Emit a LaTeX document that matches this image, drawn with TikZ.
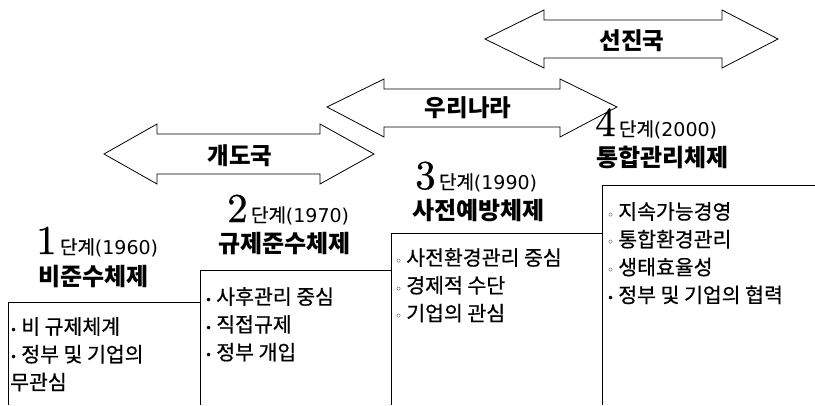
\documentclass[tikz,border=0pt]{standalone}
\usepackage{fontspec}
\newfontfamily\kr{Noto Sans CJK KR}
\newfontfamily\krm{Noto Sans CJK KR}[FakeBold=0.6]
\newfontfamily\dv{DejaVu Sans}
\newfontfamily\numf{lmroman10-regular.otf}[FakeBold=0.6]
\newcommand\fb{{\dv\fontsize{12}{12}\selectfont •}\hspace{4pt}}
\newcommand\hb{{\dv\fontsize{12}{12}\selectfont ◦}\hspace{4pt}}
\newcommand\bignum[1]{{\numf\fontsize{41}{41}\selectfont #1}}
\newcommand\stg[2]{{\krm\fontsize{19}{19}\selectfont #1}{\dv\fontsize{19}{19}\selectfont #2}}
\tikzset{
  arrowshape/.style={draw, line width=0.8pt, fill=white, line join=miter},
  arrowlabel/.style={font=\kr\bfseries\fontsize{23.5}{23.5}\selectfont, inner sep=0pt},
  heading/.style={font=\kr\bfseries\fontsize{24}{24}\selectfont, anchor=west, inner sep=0pt},
  stage/.style={anchor=base west, inner sep=0pt},
  items/.style={anchor=north west, align=left, font=\krm\fontsize{20.5}{27.8}\selectfont, inner sep=0pt},
  stair/.style={draw, line width=0.7pt}
}
\begin{document}
\begin{tikzpicture}[x=1pt,y=-1pt]
\useasboundingbox (0,0) rectangle (815,405);
% double arrows
\draw[arrowshape] (104,154) -- (157,124) -- (157,134) -- (320,134) -- (320,124) -- (374,154) -- (320,184) -- (320,174) -- (157,174) -- (157,184) -- cycle;
\node[arrowlabel] (a1) at (240,156) {개도국};
\draw[arrowshape] (327,107) -- (384,79) -- (384,89) -- (560,89) -- (560,79) -- (617,107) -- (560,137) -- (560,127) -- (384,127) -- (384,137) -- cycle;
\node[arrowlabel] (a2) at (468,108) {우리나라};
\draw[arrowshape] (485,39) -- (544,10) -- (544,20) -- (722,20) -- (722,10) -- (778,39) -- (722,68) -- (722,58) -- (544,58) -- (544,68) -- cycle;
\node[arrowlabel] (a3) at (632,41) {선진국};
% headings
\node[stage] (s1) at (36,254) {\bignum{1} \stg{단계}{(1960)}};
\node[heading] (t1) at (38,277) {비준수체제};
\node[stage] (s2) at (227,222) {\bignum{2} \stg{단계}{(1970)}};
\node[heading] (t2) at (218,244) {규제준수체제};
\node[stage] (s3) at (415,189) {\bignum{3} \stg{단계}{(1990)}};
\node[heading] (t3) at (412,211) {사전예방체제};
\node[stage] (s4) at (595,136) {\bignum{4} \stg{단계}{(2000)}};
\node[heading] (t4) at (596,157) {통합관리체제};
% staircase of boxes
\draw[stair] (8,405) -- (8,302) -- (200,302);
\draw[stair] (200,405) -- (200,270) -- (391,270);
\draw[stair] (391,405) -- (391,233) -- (602,233);
\draw[stair] (602,405) -- (602,185) -- (815,185);
% items
\node[items] (b1) at (10,317) {\fb 비 규제체계\\\fb 정부 및 기업의\\무관심};
\node[items] (b2) at (205,287) {\fb 사후관리 중심\\\fb 직접규제\\\fb 정부 개입};
\node[items] (b3) at (395,248) {\hb 사전환경관리 중심\\\hb 경제적 수단\\\hb 기업의 관심};
\node[items] (b4) at (607,202) {\hb 지속가능경영\\\hb 통합환경관리\\\hb 생태효율성\\\fb 정부 및 기업의 협력};
\end{tikzpicture}
\end{document}
